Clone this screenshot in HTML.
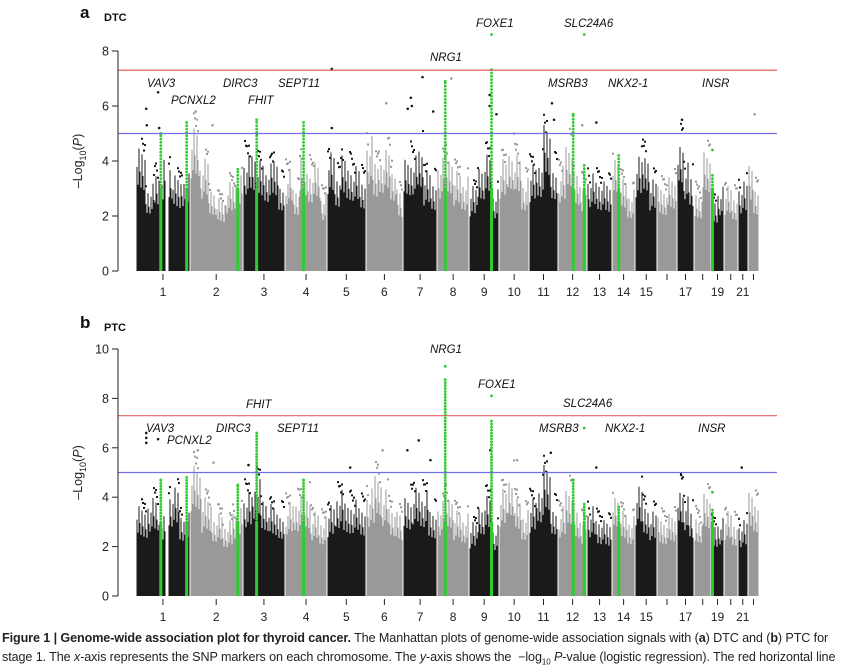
<!DOCTYPE html>
<html><head><meta charset="utf-8">
<style>
html,body{margin:0;padding:0;background:#fff;}
body{width:855px;height:667px;overflow:hidden;position:relative;font-family:"Liberation Sans",sans-serif;}
#cap{position:absolute;left:2px;top:629px;width:851px;font-family:"Liberation Sans Narrow","Liberation Sans",sans-serif;font-size:12.6px;line-height:19px;color:#222;letter-spacing:-0.1px;white-space:nowrap;}
</style></head>
<body>
<svg id="chart" width="855" height="625" style="position:absolute;left:0;top:0" xmlns="http://www.w3.org/2000/svg"></svg>
<div id="cap">
<div><b>Figure 1 | Genome-wide association plot for thyroid cancer.</b> The Manhattan plots of genome-wide association signals with (<b>a</b>) DTC and (<b>b</b>) PTC for</div>
<div>stage 1. The <i>x</i>-axis represents the SNP markers on each chromosome. The <i>y</i>-axis shows the &nbsp;&minus;log<sub style="font-size:8px">10</sub> <i>P</i>-value (logistic regression). The red horizontal line</div>
</div>
<script>
const chromLengths=[249,243,198,191,181,171,159,146,141,136,135,134,115,107,102,90,81,78,59,63,48,51];
const chromLabels=["1","2","3","4","5","6","7","8","9","10","11","12","13","14","15","","17","","19","","21",""];
const dtcEnvelope=[[4.9,3.6,4.1,4.5,3.8,4.0],[5.8,4.5,3.5,3.0,3.6,3.8],[4.8,5.0,4.5,4.3,4.6,3.8],[4.2,3.5,4.6,4.3,4.5,3.2],[4.8,4.0,4.6,4.4,4.3,3.9],[5.4,4.5,4.9,5.0,4.4,3.3],[4.7,4.8,5.2,4.1,3.8],[4.5,4.8,4.1,3.8],[3.4,4.5,4.8,3.3],[4.5,5.1,4.8,3.8],[4.3,4.6,5.8,4.5],[4.3,5.3,4.0,3.7],[4.0,3.8,3.6],[4.9,3.8,3.3],[4.6,5.0,3.8],[3.5,3.8],[5.5,4.5,4.0],[3.3,4.8],[3.0,3.5],[3.5,3.2],[3.6],[4.2,3.5]];
const ptcEnvelope=[[4.0,4.5,3.6,4.8,3.8],[5.9,4.4,3.8,3.4,3.9],[4.8,5.3,4.5,4.1,4.0],[4.3,4.5,4.7,3.9,3.6],[4.1,4.7,4.3,4.4,4.2],[4.8,5.6,4.9,4.2,3.8],[4.6,5.0,4.8,4.0],[4.2,4.7,3.9,3.7],[3.3,4.3,4.6,3.2],[4.8,5.6,4.5,3.9],[4.4,5.1,5.8,4.3],[4.1,5.0,3.9,3.6],[4.1,3.6,3.4],[4.8,3.9,3.6],[4.9,4.3,3.9],[3.6,3.7],[5.1,4.6,4.0],[3.7,4.6],[3.4,3.6],[3.9,3.5],[3.4],[4.6,4.4]];
const dtcHits=[[0,0.19,5.9],[0,0.2,5.3],[0,0.41,6.5],[0,0.43,5.2],[1,0.11,5.8],[1,0.43,5.3],[4,0.13,7.35],[4,0.13,5.2],[5,0.55,6.1],[6,0.14,5.9],[6,0.23,6.3],[6,0.26,6.0],[6,0.57,7.05],[6,0.88,5.8],[7,0.44,7.0],[8,0.68,6.4],[8,0.68,6.0],[8,0.9,5.7],[10,0.79,6.1],[10,0.86,5.5],[11,0.83,5.3],[12,0.37,5.4],[16,0.3,5.5],[21,0.6,5.7]];
const ptcHits=[[0,0.19,6.6],[0,0.19,6.4],[0,0.19,6.2],[0,0.41,6.35],[1,0.15,5.9],[1,0.45,5.4],[2,0.14,5.3],[4,0.6,5.2],[5,0.45,5.9],[6,0.13,5.9],[6,0.46,6.3],[6,0.8,5.5],[8,0.7,5.9],[9,0.6,5.5],[10,0.75,5.8],[12,0.37,5.2],[16,0.25,4.9],[20,0.4,5.2]];
const dtcLoci=[[0,0.46,5.0,5.0],[0,0.94,5.4,5.4],[1,0.91,3.7,3.7],[2,0.33,5.5,5.5],[3,0.44,5.4,5.4],[7,0.25,6.9,6.9],[8,0.74,7.4,8.6],[11,0.52,5.7,5.7],[11,0.9,3.9,8.6],[13,0.29,4.2,4.2],[18,0.1,3.5,4.4]];
const ptcLoci=[[0,0.46,4.7,4.7],[0,0.94,4.8,4.8],[1,0.91,4.5,4.5],[2,0.33,6.6,6.6],[3,0.44,4.7,4.7],[7,0.25,8.8,9.3],[8,0.74,7.2,8.1],[11,0.52,4.7,4.7],[11,0.9,3.8,6.8],[13,0.29,3.6,3.6],[18,0.1,3.6,4.2]];
const dtcGenes=[["VAV3",147,87],["PCNXL2",171,104],["DIRC3",223,87],["FHIT",248,104],["SEPT11",278,87],["NRG1",430,61],["FOXE1",476,27],["SLC24A6",564,27],["MSRB3",548,87],["NKX2-1",608,87],["INSR",702,87]];
const ptcGenes=[["VAV3",146,432],["PCNXL2",167,444],["DIRC3",216,432],["FHIT",246,408],["SEPT11",277,432],["NRG1",430,353],["FOXE1",478,388],["SLC24A6",563,407],["MSRB3",539,432],["NKX2-1",605,432],["INSR",698,432]];
const dtcTicks=[0,2,4,6,8];
const ptcTicks=[0,2,4,6,8,10];

const NS="http://www.w3.org/2000/svg";
const svg=document.getElementById('chart');
function mk(tag,attrs,parent){const e=document.createElementNS(NS,tag);for(const k in attrs)e.setAttribute(k,attrs[k]);(parent||svg).appendChild(e);return e;}
const X0=136,X1=759;
const total=chromLengths.reduce((a,b)=>a+b,0);
const starts=[];let acc=0;chromLengths.forEach(l=>{starts.push(acc);acc+=l;});
function xPos(ci,f){return X0+(starts[ci]+f*chromLengths[ci])/total*(X1-X0);}
function hash(i){return ((i*7919+13)%97)/97;}

function panel(cfg){
  const g=mk('g',{});
  
  
  const y=v=>cfg.y0-(v/cfg.ymax)*(cfg.y0-cfg.yTop);
  const L=mk('text',{x:80,y:cfg.letterY,'font-size':17,'font-weight':'bold',fill:'#111'},g);L.textContent=cfg.letter;
  
  const T=mk('text',{x:104,y:cfg.letterY+3,'font-size':11,'font-weight':'bold',fill:'#111'},g);T.textContent=cfg.title;
  
  const cloud=mk('g',{},g);
  
  chromLengths.forEach((len,ci)=>{
    const col=ci%2===0?'#1a1a1a':'#999999';
    const env=cfg.env[ci];
    const xa=Math.round(xPos(ci,0))+0.5;
    const xb=(ci+1<chromLengths.length?Math.round(xPos(ci+1,0)):X1)-0.5;
    const w=xb-xa;
    for(let px=0;px<w;px++){
      if(ci===0 && px/w>0.53 && px/w<0.6) continue;
      const seg=Math.min(env.length-1,Math.floor(px/w*env.length));
      const e=env[seg];
      const t=hash(Math.round(xa)+px+ci*31);
      const top=e*(0.58+0.34*Math.pow(t,1.6));
      const r=mk('rect',{x:xa+px,y:y(top),width:1,height:y(0)-y(top),fill:col},cloud);
      
      const t2=hash(px*3+ci*17+5);
      if(t2>0.55){
        const dv=top+(e-top)*t2;
        const d=mk('rect',{x:xa+px-0.5,y:y(dv),width:2,height:2,fill:col},cloud);
        
      }
    }
  });
  cfg.hits.forEach(h=>{
    const c=mk('circle',{cx:xPos(h[0],h[1]),cy:y(h[2]),r:1.3,fill:h[0]%2===0?'#1a1a1a':'#999'},g);
    
  });
  cfg.loci.forEach(l=>{
    const gx=xPos(l[0],l[1]);
    const gg=mk('g',{},g);
    
    const solid=Math.min(l[2],3.0);
    mk('rect',{x:gx-1.5,y:y(solid),width:3,height:y(0)-y(solid),fill:'#2ecc2e'},gg);
    for(let v=solid;v<=l[2];v+=0.12){mk('circle',{cx:gx,cy:y(v),r:1.4,fill:'#2ecc2e'},gg);}
    mk('circle',{cx:gx,cy:y(l[3]),r:1.4,fill:'#2ecc2e'},gg);
  });
  const red=mk('line',{x1:118,x2:777,y1:y(7.3),y2:y(7.3),stroke:'#e06060','stroke-width':1.2},g);
  
  const blue=mk('line',{x1:118,x2:777,y1:y(5),y2:y(5),stroke:'#7070e0','stroke-width':1.2},g);
  
  const ya=mk('g',{},g);
  mk('line',{x1:118,x2:118,y1:y(0),y2:y(cfg.ymax),stroke:'#222','stroke-width':1},ya);
  cfg.ticks.forEach(v=>{
    mk('line',{x1:112,x2:118,y1:y(v),y2:y(v),stroke:'#222','stroke-width':1},ya);
    const t=mk('text',{x:109,y:y(v)+4.5,'font-size':12.5,'text-anchor':'end',fill:'#222'},ya);t.textContent=v;
    
  });
  const yt=mk('text',{x:0,y:0,'font-size':12.5,fill:'#222','text-anchor':'middle',transform:`translate(${cfg.titleX},${(y(0)+y(cfg.ymax))/2}) rotate(-90)`},g);
  
  yt.innerHTML='\u2013Log<tspan font-size="9" dy="4">10</tspan><tspan dy="-4">(</tspan><tspan font-style="italic">P</tspan>)';
  const xa=mk('g',{},g);
  chromLengths.forEach((len,ci)=>{
    const cx=xPos(ci,0.5);
    mk('line',{x1:cx,x2:cx,y1:y(0)+3,y2:y(0)+9,stroke:'#222','stroke-width':1},xa);
    if(chromLabels[ci]){const t=mk('text',{x:cx,y:y(0)+25,'font-size':12,'text-anchor':'middle',fill:'#222'},xa);t.textContent=chromLabels[ci];
      }
  });
  cfg.genes.forEach(gn=>{
    const t=mk('text',{x:gn[1],y:gn[2],'font-size':11.5,'font-style':'italic',fill:'#111'},g);t.textContent=gn[0];
    
  });
}
panel({name:'dtc-panel',letter:'a',title:'DTC',letterY:18,y0:271,yTop:51,ymax:8,ticks:dtcTicks,env:dtcEnvelope,hits:dtcHits,loci:dtcLoci,genes:dtcGenes,titleX:82});
panel({name:'ptc-panel',letter:'b',title:'PTC',letterY:328,y0:596,yTop:349,ymax:10,ticks:ptcTicks,env:ptcEnvelope,hits:ptcHits,loci:ptcLoci,genes:ptcGenes,titleX:82});
</script>
</body></html>
